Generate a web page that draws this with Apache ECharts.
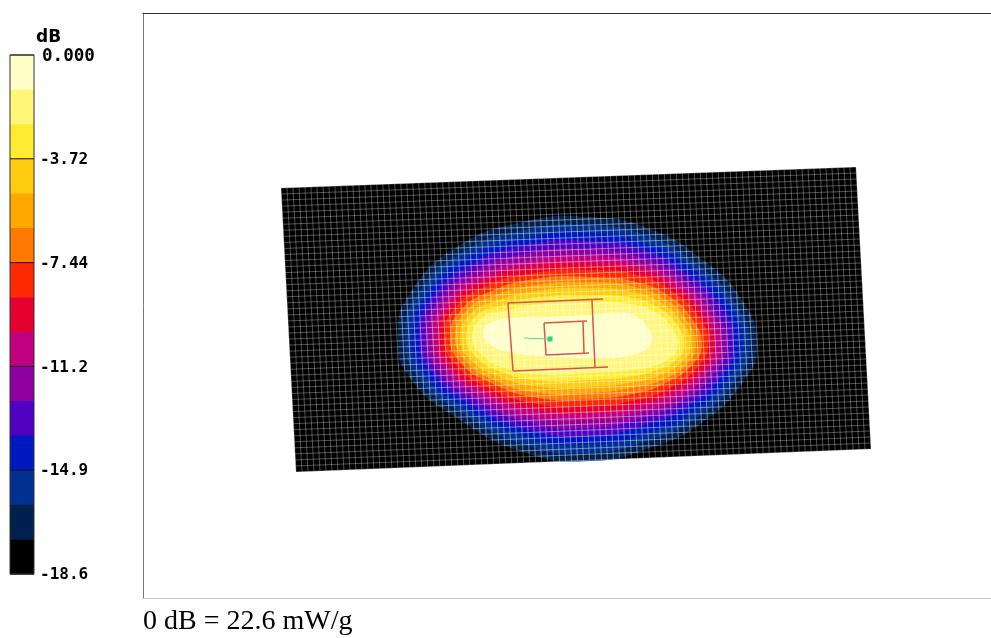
<!DOCTYPE html>
<html>
<head>
<meta charset="utf-8">
<style>html,body{margin:0;padding:0;background:#fff}#c{width:991px;height:638px}</style>
<script src="https://cdn.jsdelivr.net/npm/echarts@6/dist/echarts.min.js"></script>
</head>
<body>
<div id="c"></div>
<script>
// Colour scale: band edges in dB, and one colour per band (top to bottom)
const bandEdges = [0,-1.24,-2.48,-3.72,-4.96,-6.2,-7.44,-8.68,-9.92,-11.16,-12.4,-13.64,-14.88,-16.12,-17.36,-18.6];
const bandColors = ['#FFFFC8','#FFF67A','#FFEC32','#FFCC10','#FFA800','#FF7800','#FF2800','#E60030','#C00080','#9000A0','#5000C0','#0018C0','#003090','#002050','#000000'];
const tickLabels = ['-18.6','-14.9','-11.2','-7.44','-3.72','0.000'];
const titleText = '0 dB = 22.6 mW/g';

// Measurement plate corners and its mesh
const plateCorners = [[281,188],[856,167],[871,449],[296,472]];
const meshColumns = 96;
const meshRows = 47;

// Contour crossings along 16 directions: index 0 is the -17.36 dB contour, index 13 the -1.24 dB contour
const rayWx  =[398,405,412,419,426,432,438,444,450,455,460,466,472,483];
const rayWy  =[335,335,335,336,336,336,337,337,337,337,338,338,338,334];
const rayWNWx=[410,417,424,431,437,443,449,455,460,465,470,476,482,487];
const rayWNWy=[293,295,298,300,303,305,306,308,311,312,314,316,318,325];
const rayNWx =[457,461,465,469,473,477,480,484,487,490,493,497,500,505];
const rayNWy =[247,253,259,266,272,277,282,287,293,297,302,307,312,319];
const rayNNWx=[523,525,526,528,529,531,532,534,535,536,537,539,540,545];
const rayNNWy=[222,230,238,245,253,260,266,273,279,285,291,297,304,317];
const rayNx  =[590,590,590,590,590,590,590,590,590,590,590,590,590,590];
const rayNy  =[217,225,233,241,249,256,263,270,277,282,288,295,302,315];
const rayNNEx=[650,648,646,644,642,641,639,638,636,635,633,632,630,622];
const rayNNEy=[229,236,243,250,258,264,269,275,282,287,292,298,304,313];
const rayNEx =[703,698,694,689,685,681,677,673,669,666,663,659,655,637];
const rayNEy =[260,265,270,275,280,284,288,292,296,300,304,308,312,317];
const rayENEx=[742,735,729,722,715,710,704,699,693,688,683,678,672,648];
const rayENEy=[300,303,305,308,311,313,315,317,320,322,324,326,328,328];
const rayEx  =[757,750,742,734,727,721,714,708,702,696,691,684,678,652];
const rayEy  =[345,345,345,345,345,345,345,345,345,345,345,345,345,340];
const rayESEx=[743,736,729,722,715,709,704,698,692,687,682,676,670,645];
const rayESEy=[382,380,377,375,373,371,369,367,365,364,362,360,358,350];
const raySEx =[703,698,693,688,683,679,674,670,666,662,658,654,650,630];
const raySEy =[422,417,412,406,401,397,392,388,383,380,376,371,367,355];
const raySSEx=[653,650,648,645,642,640,638,636,633,631,629,627,625,612];
const raySSEy=[447,440,433,425,418,412,406,400,394,388,383,377,371,358];
const raySx  =[590,590,590,590,590,590,590,590,590,590,590,590,590,590];
const raySy  =[461,453,444,436,428,420,413,406,399,393,387,380,373,358];
const raySSWx=[523,525,527,529,531,533,535,537,538,540,541,543,545,552];
const raySSWy=[452,445,437,430,423,417,410,404,398,393,387,381,375,357];
const raySWx =[457,462,466,471,475,479,483,487,491,494,497,501,505,515];
const raySWy =[418,413,408,404,399,395,391,387,383,380,376,372,368,353];
const rayWSWx=[410,417,424,431,437,443,449,455,460,465,470,476,482,490];
const rayWSWy=[378,376,374,371,369,367,366,364,362,360,359,357,355,345];
const rays = [[rayWx,rayWy],[rayWNWx,rayWNWy],[rayNWx,rayNWy],[rayNNWx,rayNNWy],[rayNx,rayNy],[rayNNEx,rayNNEy],[rayNEx,rayNEy],[rayENEx,rayENEy],[rayEx,rayEy],[rayESEx,rayESEy],[raySEx,raySEy],[raySSEx,raySSEy],[raySx,raySy],[raySSWx,raySSWy],[raySWx,raySWy],[rayWSWx,rayWSWy]];

// Phantom outline and probe trace
const outlineSegments = [[508,303,603,299],[508,303,513,371],[513,371,608,367],[592,300,595,367],[544,323,587,321],[544,323,546,355],[546,355,589,353],[583,322,584,353]];
const probeTrace = [524,338,550,339];
const probeTip = [550,339];

const chart = echarts.init(document.getElementById('c'), null, {renderer:'canvas'});
const contourCount = rayWx.length;

function lerp(a,b,t){return [a[0]+(b[0]-a[0])*t, a[1]+(b[1]-a[1])*t];}
const meshLines = [];
for (let i=0;i<=meshColumns;i++){const t=i/meshColumns;meshLines.push([lerp(plateCorners[0],plateCorners[1],t),lerp(plateCorners[3],plateCorners[2],t)]);}
for (let j=0;j<=meshRows;j++){const t=j/meshRows;meshLines.push([lerp(plateCorners[0],plateCorners[3],t),lerp(plateCorners[1],plateCorners[2],t)]);}

const axisStyle = c => ({lineStyle:{color:c,width:1}});
chart.setOption({
  animation:false,
  backgroundColor:'#fff',
  title:{text:titleText,left:143,top:608,padding:0,textStyle:{fontFamily:'Liberation Serif',fontWeight:'normal',fontSize:28,color:'#000'}},
  graphic:[{type:'text',left:36,top:29,style:{text:'dB',font:'bold 17px "DejaVu Sans"',fill:'#000'}}],
  grid:[
    {left:143,right:0,top:13,bottom:40},
    {left:10,width:24,top:55,height:519}
  ],
  xAxis:[
    {gridIndex:0,type:'value',min:143,max:991,position:'top',axisLine:Object.assign({show:true},axisStyle('#333')),axisTick:{show:false},axisLabel:{show:false},splitLine:{show:false}},
    {gridIndex:0,type:'value',min:143,max:991,position:'bottom',axisLine:Object.assign({show:true},axisStyle('#c8c8c8')),axisTick:{show:false},axisLabel:{show:false},splitLine:{show:false}},
    {gridIndex:1,type:'value',min:0,max:1,show:false}
  ],
  yAxis:[
    {gridIndex:0,type:'value',min:13,max:598,inverse:true,position:'left',axisLine:Object.assign({show:true},axisStyle('#777')),axisTick:{show:false},axisLabel:{show:false},splitLine:{show:false}},
    {gridIndex:1,type:'value',min:-18.6,max:0,interval:3.72,position:'right',
     axisLine:{show:false},axisTick:{show:false},splitLine:{show:false},
     axisLabel:{show:true,margin:6,padding:[2,0,0,0],color:'#000',fontFamily:'DejaVu Sans Mono',fontWeight:'bold',fontSize:16,
       formatter:(v,i)=>i===tickLabels.length-1?'{top|'+tickLabels[i]+'}':tickLabels[i],
       rich:{top:{fontFamily:'DejaVu Sans Mono',fontWeight:'bold',fontSize:17.6,color:'#000',padding:[0,0,0,2]}}}},
    {gridIndex:0,type:'value',min:13,max:598,inverse:true,position:'right',axisLine:Object.assign({show:true},axisStyle('#eeeeee')),axisTick:{show:false},axisLabel:{show:false},splitLine:{show:false}}
  ],
  series:[
    {type:'custom',xAxisIndex:0,yAxisIndex:0,silent:true,clip:false,data:[0],z:2,
     renderItem:(p,api)=>({type:'polygon',shape:{points:plateCorners.map(c=>api.coord(c))},style:{fill:'#000'}})},
    {type:'custom',xAxisIndex:0,yAxisIndex:0,silent:true,clip:false,z:3,
     data:Array.from({length:contourCount},(_,i)=>i),
     renderItem:(p,api)=>{const i=api.value(0);
       return {type:'polygon',shape:{smooth:0.5,points:rays.map(r=>api.coord([r[0][i],r[1][i]]))},style:{fill:bandColors[bandColors.length-2-i]}};}},
    {type:'custom',xAxisIndex:0,yAxisIndex:0,silent:true,clip:false,z:4,
     data:meshLines.map((_,i)=>i),
     renderItem:(p,api)=>{const l=meshLines[api.value(0)],a=api.coord(l[0]),b=api.coord(l[1]);
       return {type:'line',shape:{x1:a[0],y1:a[1],x2:b[0],y2:b[1]},style:{stroke:'rgba(255,255,255,0.3)',lineWidth:1}};}},
    {type:'custom',xAxisIndex:0,yAxisIndex:0,silent:true,clip:false,z:4,data:[0],
     renderItem:(p,api)=>({type:'group',
       clipPath:{type:'polygon',shape:{smooth:0.5,points:rays.map(r=>api.coord([r[0][0],r[1][0]]))}},
       children:meshLines.map(l=>{const a=api.coord(l[0]),b=api.coord(l[1]);
         return {type:'line',shape:{x1:a[0],y1:a[1],x2:b[0],y2:b[1]},style:{stroke:'rgba(255,255,255,0.18)',lineWidth:1}};})})},
    {type:'custom',xAxisIndex:0,yAxisIndex:0,silent:true,clip:false,z:5,
     data:outlineSegments,
     renderItem:(p,api)=>{const a=api.coord([api.value(0),api.value(1)]),b=api.coord([api.value(2),api.value(3)]);
       return {type:'line',shape:{x1:a[0],y1:a[1],x2:b[0],y2:b[1]},style:{stroke:'#D9534F',lineWidth:1.5}};}},
    {type:'custom',xAxisIndex:0,yAxisIndex:0,silent:true,clip:false,z:6,
     data:[probeTrace],
     renderItem:(p,api)=>{const a=api.coord([api.value(0),api.value(1)]),b=api.coord([api.value(2),api.value(3)]),t=api.coord(probeTip);
       return {type:'group',children:[
         {type:'line',shape:{x1:a[0],y1:a[1],x2:b[0],y2:b[1]},style:{stroke:'#50E090',lineWidth:1.2}},
         {type:'rect',shape:{x:t[0]-2.5,y:t[1]-2.5,width:5,height:5},style:{fill:'#30D080'}}]};}},
    {type:'custom',xAxisIndex:2,yAxisIndex:1,silent:true,clip:false,z:3,
     data:bandColors.map((_,i)=>i),
     renderItem:(p,api)=>{const i=api.value(0),a=api.coord([0,bandEdges[i]]),b=api.coord([1,bandEdges[i+1]]);
       return {type:'rect',shape:{x:a[0],y:a[1],width:b[0]-a[0],height:b[1]-a[1]+0.5},style:{fill:bandColors[i]}};}},
    {type:'custom',xAxisIndex:2,yAxisIndex:1,silent:true,clip:false,z:4,
     data:bandEdges.filter((_,i)=>i%3===0),
     renderItem:(p,api)=>{const a=api.coord([0,api.value(0)]),b=api.coord([1,api.value(0)]);
       return {type:'line',shape:{x1:a[0],y1:a[1],x2:b[0],y2:b[1]},style:{stroke:'#111',lineWidth:1}};}},
    {type:'custom',xAxisIndex:2,yAxisIndex:1,silent:true,clip:false,z:4,data:[0],
     renderItem:(p,api)=>{const a=api.coord([0,0]),b=api.coord([1,-18.6]);
       return {type:'rect',shape:{x:a[0],y:a[1],width:b[0]-a[0],height:b[1]-a[1]},style:{fill:'none',stroke:'#333',lineWidth:1}};}}
  ]
});
</script>
</body>
</html>
